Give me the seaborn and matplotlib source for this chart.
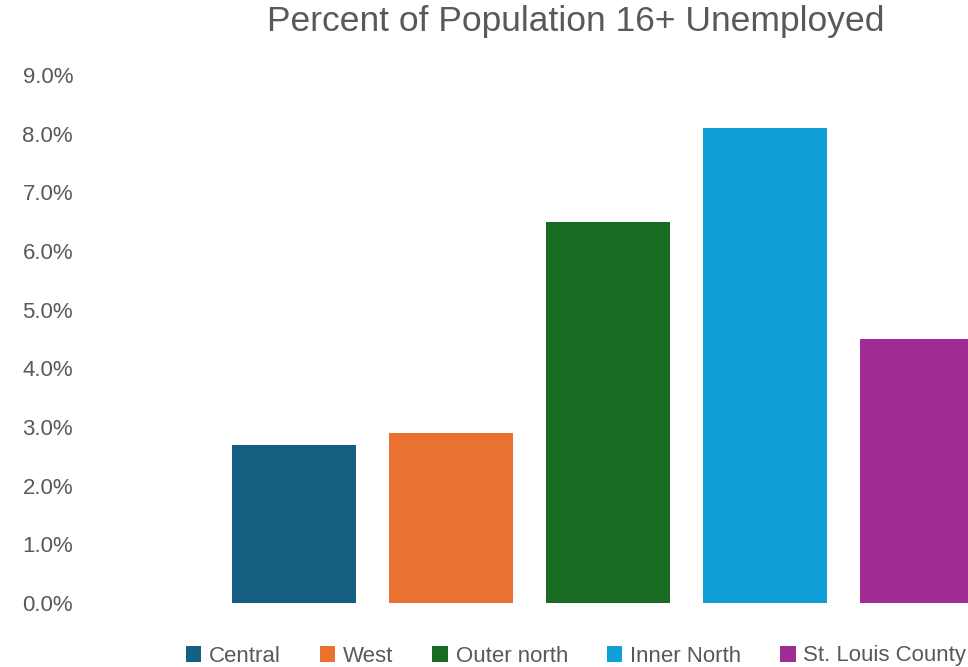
import matplotlib
matplotlib.use("Agg")
import matplotlib.pyplot as plt
import seaborn as sns
import pandas as pd
from matplotlib.patches import Patch

categories = ["Central", "West", "Outer north", "Inner North", "St. Louis County"]
values = [2.7, 2.9, 6.5, 8.1, 4.5]
colors = ["#156082", "#E97132", "#196B24", "#0F9ED5", "#A02B93"]
yticks = [0, 1, 2, 3, 4, 5, 6, 7, 8, 9]
title = "Percent of Population 16+ Unemployed"

sns.set_theme(style="white")
fam = ["Liberation Sans", "DejaVu Sans"]
plt.rcParams["font.family"] = fam
txt = "#595959"

W, H = 968, 667
fig = plt.figure(figsize=(W / 100, H / 100), dpi=100, facecolor="white")
left_px, right_px, top_px, bot_px = 80, 968, 75, 603
ax = fig.add_axes([left_px / W, 1 - bot_px / H, (right_px - left_px) / W, (bot_px - top_px) / H])
ax.set_facecolor("none")

df = pd.DataFrame({"cat": categories, "val": values})
sns.barplot(data=df, x="cat", y="val", hue="cat", palette=colors, order=categories,
            hue_order=categories, width=0.79, legend=False, saturation=1, ax=ax, dodge=False,
            linewidth=0)

ax.set_xlim((left_px - 294) / 157, (right_px - 294) / 157)
ax.set_ylim(0, 9)
ax.set_yticks(yticks)
ax.set_yticklabels([f"{t:.1f}%" for t in yticks], fontsize=16, color=txt)
ax.set_xticks([])
ax.set_xlabel("")
ax.set_ylabel("")
ax.tick_params(axis="y", length=0, pad=5)
for s in ax.spines.values():
    s.set_visible(False)

fig.text(576 / W, 1 - 21 / H, title, ha="center", va="center", fontsize=25.5, color=txt)

handles = [Patch(facecolor=c, edgecolor="none") for c in colors]
leg = fig.legend(handles, categories, loc="center", bbox_to_anchor=(576 / W, 1 - 656 / H),
                 ncol=5, frameon=False, fontsize=16, handlelength=0.7, handleheight=0.7,
                 handletextpad=0.35, columnspacing=1.75, labelcolor=txt)

fig.savefig("out.png", dpi=100, facecolor="white")
